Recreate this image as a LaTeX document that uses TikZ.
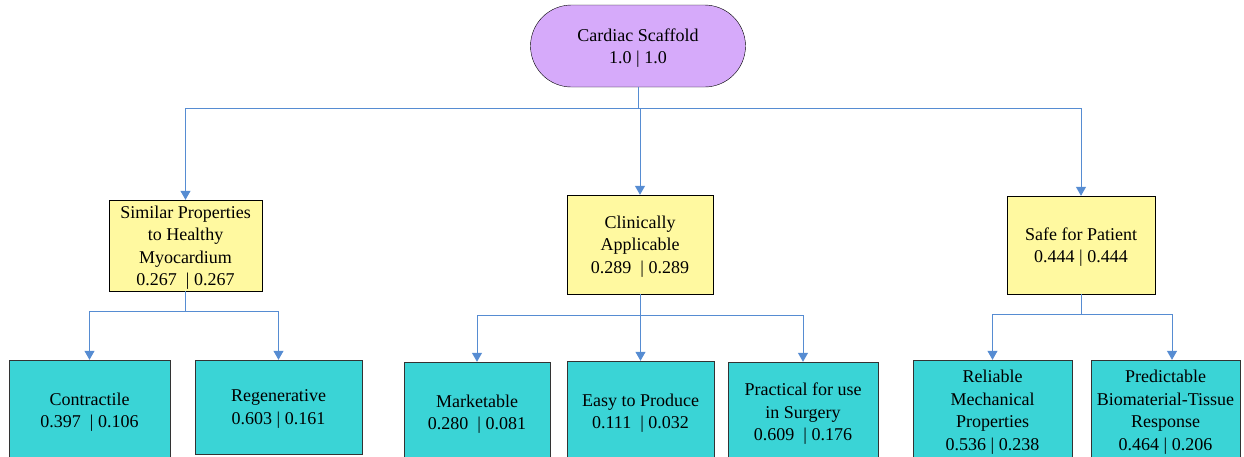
\documentclass[tikz,border=0pt]{standalone}
\usepackage{fontspec}
\setmainfont{Liberation Serif}
\usepackage{tikz}
\usetikzlibrary{positioning, arrows.meta, shapes.misc}
\definecolor{rootviolet}{RGB}{214,170,250}
\definecolor{crityellow}{RGB}{255,249,160}
\definecolor{subcyan}{RGB}{58,212,214}
\definecolor{linkblue}{RGB}{86,140,210}
\tikzstyle{Goal} = [rounded rectangle, minimum width = 215pt, minimum height = 82pt, draw=black, fill = rootviolet, align = center, inner sep = 0pt, text depth = 0pt]
\tikzstyle{Crit} = [rectangle, draw=black, fill = crityellow, align = center, inner sep = 0pt, text depth = 0pt]
\tikzstyle{Sub} = [rectangle, draw=black!80, fill = subcyan, align = center, inner sep = 0pt, text depth = 0pt, minimum height = 100pt]
\tikzstyle{Link} = [linkblue, line width = 1pt, -{Triangle[width=10pt, length=9pt]}]

\begin{document}
\begin{tikzpicture}[x=1pt, y=-1pt, font=\fontsize{18}{22.5}\selectfont]

    \useasboundingbox (0,0) rectangle (1244,456);
    \clip (0,0) rectangle (1244,456);

    %%%%%%%%%%%%%%%%%%%%%%
    \node[Goal] (scaffold) at (638,46) {Cardiac Scaffold\\1.0 | 1.0};

    \node[Crit, minimum width = 153pt, minimum height = 91pt] (similar) at (185.5,245.5) {Similar Properties\\to Healthy\\Myocardium\\0.267 ~| 0.267};
    \node[Crit, minimum width = 146pt, minimum height = 99pt] (clinical) at (640,244.5) {Clinically\\Applicable\\0.289 ~| 0.289};
    \node[Crit, minimum width = 148pt, minimum height = 98pt] (safe) at (1081,245) {Safe for Patient\\0.444 | 0.444};

    \coordinate (topbus) at (638,108);
    \draw[Link] (scaffold.south) -- (topbus) -| (similar.north);
    \draw[Link] (scaffold.south) -- (topbus) -| (clinical.north);
    \draw[Link] (scaffold.south) -- (topbus) -| (safe.north);

    %%%%%%%%%%%%%%%%%%%%%%
    \node[Sub, minimum width = 161pt] (contract) at (89.5,410) {Contractile\\0.397 ~| 0.106};
    \node[Sub, minimum width = 167pt, minimum height = 94pt] (regen) at (278.5,407) {Regenerative\\0.603 | 0.161};

    \coordinate (simbus) at ([yshift=-20pt]similar.south);
    \draw[Link] (similar.south) -- (simbus) -| (contract.north);
    \draw[Link] (similar.south) -- (simbus) -| (regen.north);

    %%%%%%%%%%%%%%%%%%%%%%
    \node[Sub, minimum width = 146pt] (market) at (477,412) {Marketable\\0.280 ~| 0.081};
    \node[Sub, minimum width = 147pt] (produce) at (640.5,411) {Easy to Produce\\0.111 ~| 0.032};
    \node[Sub, minimum width = 150pt] (surgery) at (803,412) {Practical for use\\in Surgery\\0.609 ~| 0.176};

    \coordinate (clinbus) at ([yshift=-21pt]clinical.south);
    \draw[Link] (clinical.south) -- (clinbus) -| (market.north);
    \draw[Link] (clinical.south) -- (clinbus) -| (produce.north);
    \draw[Link] (clinical.south) -- (clinbus) -| (surgery.north);

    %%%%%%%%%%%%%%%%%%%%%%
    \node[Sub, minimum width = 159pt] (reliable) at (992.5,410) {Reliable\\Mechanical\\Properties\\0.536 | 0.238};
    \node[Sub, minimum width = 149pt] (predict) at (1165.5,410) {Predictable\\Biomaterial-Tissue\\Response\\0.464 | 0.206};

    \coordinate (safebus) at ([yshift=-20pt]safe.south);
    \draw[Link] (safe.south) -- (safebus) -| (reliable.north);
    \draw[Link] (safe.south) -- (safebus) -| ([xshift=6.5pt]predict.north);

\end{tikzpicture}
\end{document}
